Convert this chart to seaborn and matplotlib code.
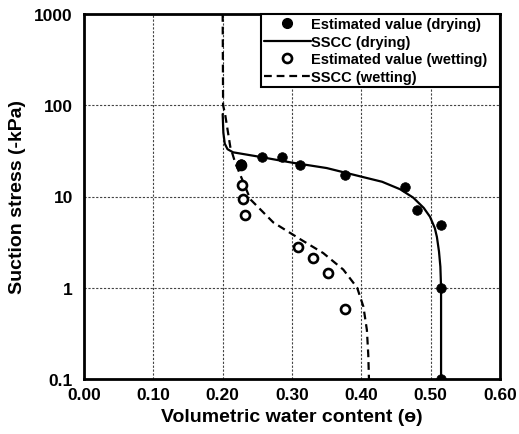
import matplotlib
matplotlib.use("Agg")
import matplotlib.pyplot as plt
import matplotlib.ticker as mticker
from matplotlib.lines import Line2D
import seaborn as sns
import pandas as pd

# Estimated values (drying)
dry_theta = [0.227, 0.257, 0.285, 0.312, 0.376, 0.463, 0.481, 0.515, 0.515, 0.515]
dry_stress = [22.5, 26.9, 26.9, 21.9, 17.0, 12.6, 7.2, 4.9, 1.0, 0.1]

# Estimated values (wetting)
wet_theta = [0.227, 0.228, 0.229, 0.232, 0.308, 0.330, 0.352, 0.377]
wet_stress = [22.0, 13.5, 9.3, 6.2, 2.8, 2.1, 1.46, 0.59]

# SSCC curve (drying)
sscc_dry_theta = [0.200, 0.201, 0.203, 0.207, 0.215, 0.250, 0.300, 0.350, 0.400,
                  0.430, 0.456, 0.475, 0.490, 0.499, 0.506, 0.509, 0.512, 0.514,
                  0.515, 0.515]
sscc_dry_stress = [80, 50, 38, 33, 30.5, 27.5, 23.5, 20.5, 16.5,
                   14.5, 12.0, 9.7, 7.5, 6.0, 4.5, 3.6, 2.5, 1.7,
                   1.0, 0.1]

# SSCC curve (wetting)
sscc_wet_theta = [0.200, 0.2006, 0.2035, 0.211, 0.218, 0.240, 0.273, 0.312, 0.345,
                  0.374, 0.394, 0.403, 0.408, 0.410, 0.411]
sscc_wet_stress = [1000, 100, 80, 35, 23.6, 9.3, 5.2, 3.4, 2.4,
                   1.58, 1.0, 0.62, 0.345, 0.185, 0.1]

x_ticks = [0.0, 0.1, 0.2, 0.3, 0.4, 0.5, 0.6]
x_tick_labels = ["0.00", "0.10", "0.20", "0.30", "0.40", "0.50", "0.60"]
y_ticks = [0.1, 1, 10, 100, 1000]
y_tick_labels = ["0.1", "1", "10", "100", "1000"]

sns.set_style("white")
plt.rcParams['font.family'] = ['Liberation Sans', 'DejaVu Sans']
plt.rcParams['font.weight'] = 'bold'
plt.rcParams['text.color'] = 'black'
plt.rcParams['axes.labelcolor'] = 'black'
plt.rcParams['xtick.color'] = 'black'
plt.rcParams['ytick.color'] = 'black'

fig = plt.figure(figsize=(5.19, 4.35), dpi=100)
ax = fig.add_axes([84/519, 1-380/435, 416/519, 365/435])

df_dry = pd.DataFrame({"theta": sscc_dry_theta, "s": sscc_dry_stress})
df_wet = pd.DataFrame({"theta": sscc_wet_theta, "s": sscc_wet_stress})
pts_dry = pd.DataFrame({"theta": dry_theta, "s": dry_stress})
pts_wet = pd.DataFrame({"theta": wet_theta, "s": wet_stress})

dash = (0, (3.5, 2.2))
sns.lineplot(data=df_wet, x="theta", y="s", sort=False, estimator=None, ax=ax,
             color="black", lw=1.6, linestyle=dash, zorder=3)
sns.lineplot(data=df_dry, x="theta", y="s", sort=False, estimator=None, ax=ax,
             color="black", lw=1.6, zorder=3)
sns.scatterplot(data=pts_wet, x="theta", y="s", ax=ax, marker="o", s=42,
                facecolor="white", edgecolor="black", linewidth=1.9, zorder=4)
sns.scatterplot(data=pts_dry, x="theta", y="s", ax=ax, marker="o", s=48,
                color="black", edgecolor="black", linewidth=0.5, zorder=5)

ax.set_yscale("log")
ax.set_xlim(0, 0.6)
ax.set_ylim(0.1, 1000)
ax.set_xticks(x_ticks)
ax.set_xticklabels(x_tick_labels)
ax.set_yticks(y_ticks)
ax.set_yticklabels(y_tick_labels)
ax.xaxis.set_minor_locator(mticker.MultipleLocator(0.02))
ax.yaxis.set_minor_locator(mticker.LogLocator(base=10, subs=range(2, 10)))
ax.yaxis.set_minor_formatter(mticker.NullFormatter())

ax.tick_params(axis="x", which="both", direction="in", length=5, width=1.3,
               labelsize=12.5, pad=6, top=False)
ax.tick_params(axis="y", which="major", direction="out", length=5, width=1.3,
               labelsize=12.5, pad=3, right=False)
ax.tick_params(axis="y", which="minor", direction="out", length=3, width=1.1,
               right=False)
for lab in ax.get_xticklabels() + ax.get_yticklabels():
    lab.set_fontweight("bold")
    lab.set_color("black")

for s in ax.spines.values():
    s.set_visible(True)
    s.set_color("black")
    s.set_linewidth(2)

ax.grid(False)
for xv in [0.1, 0.2, 0.3, 0.4, 0.5]:
    ax.axvline(xv, color="#444444", lw=0.8, linestyle=(0, (2, 1.5)), zorder=1)
for yv in [1, 10, 100]:
    ax.axhline(yv, color="#444444", lw=0.8, linestyle=(0, (2, 1.5)), zorder=1)

ax.set_xlabel("Volumetric water content (ө)", fontsize=14, fontweight="bold",
              labelpad=4, color="black")
ax.set_ylabel("Suction stress (-kPa)", fontsize=14, fontweight="bold", labelpad=6,
              color="black")

handles = [
    Line2D([], [], marker="o", color="black", linestyle="none", markersize=7),
    Line2D([], [], color="black", lw=1.6),
    Line2D([], [], marker="o", markerfacecolor="white", markeredgecolor="black",
           markeredgewidth=1.9, linestyle="none", markersize=6.5),
    Line2D([], [], color="black", lw=1.6, linestyle=dash),
]
labels = ["Estimated value (drying)", "SSCC (drying)",
          "Estimated value (wetting)", "SSCC (wetting)"]
leg = ax.legend(handles, labels, loc="upper left", mode="expand",
                bbox_to_anchor=(0.4255, 0.0, 0.5745, 1.0), borderaxespad=0,
                frameon=True, fancybox=False, fontsize=10.5, handlelength=3.2,
                handletextpad=0.05, labelspacing=0.26, borderpad=0.2)
leg.get_frame().set_edgecolor("black")
leg.get_frame().set_linewidth(1.5)
leg.get_frame().set_alpha(1)
for t in leg.get_texts():
    t.set_fontweight("bold")
    t.set_color("black")
leg.set_zorder(10)

fig.savefig("out.png", dpi=100)
